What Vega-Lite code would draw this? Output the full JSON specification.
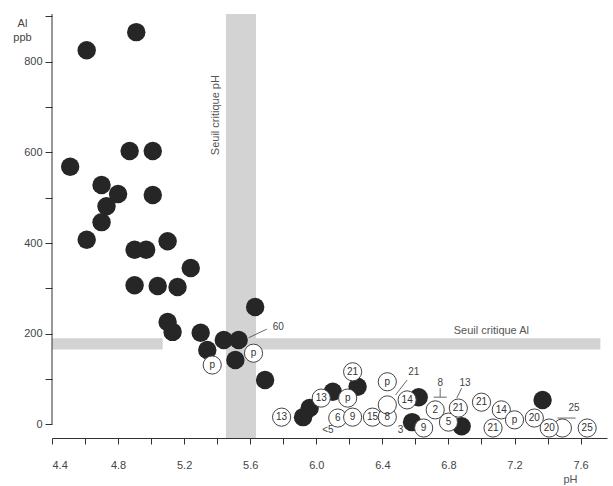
{
  "$schema": "https://vega.github.io/schema/vega-lite/v6.json",
  "width": 555,
  "height": 424,
  "autosize": {"type": "none"},
  "padding": {"left": 52, "top": 14, "right": 6, "bottom": 48},
  "background": "white",
  "config": {"view": {"stroke": null}, "font": "Liberation Sans"},
  "datasets": {
    "bands": [
      {"ph": 5.453, "ph2": 5.635, "al": -30, "al2": 905},
      {"ph": 4.4, "ph2": 5.07, "al": 165, "al2": 190},
      {"ph": 5.62, "ph2": 7.72, "al": 165, "al2": 190}
    ],
    "yline": [{"ph": 4.4, "al": 0, "al2": 905}],
    "leaders": [
      {"ph": 5.59, "al": 191, "ph2": 5.70, "al2": 210},
      {"ph": 6.55, "al": 98, "ph2": 6.48, "al2": 65},
      {"ph": 6.75, "al": 80, "ph2": 6.75, "al2": 60},
      {"ph": 6.71, "al": 60, "ph2": 6.79, "al2": 60},
      {"ph": 6.88, "al": 80, "ph2": 6.85, "al2": 58},
      {"ph": 7.46, "al": 14, "ph2": 7.57, "al2": 14}
    ],
    "filled": [
      {"ph": 4.61, "al": 825}, {"ph": 4.91, "al": 865}, {"ph": 4.51, "al": 568},
      {"ph": 4.87, "al": 603}, {"ph": 5.01, "al": 603}, {"ph": 4.70, "al": 528},
      {"ph": 4.80, "al": 508}, {"ph": 4.73, "al": 481}, {"ph": 4.70, "al": 446},
      {"ph": 5.01, "al": 506}, {"ph": 4.61, "al": 407}, {"ph": 4.90, "al": 385},
      {"ph": 4.97, "al": 385}, {"ph": 5.10, "al": 404}, {"ph": 5.24, "al": 345},
      {"ph": 4.90, "al": 307}, {"ph": 5.04, "al": 305}, {"ph": 5.16, "al": 303},
      {"ph": 5.10, "al": 226}, {"ph": 5.13, "al": 204}, {"ph": 5.30, "al": 202},
      {"ph": 5.34, "al": 164}, {"ph": 5.44, "al": 186}, {"ph": 5.53, "al": 186},
      {"ph": 5.51, "al": 142}, {"ph": 5.63, "al": 259}, {"ph": 5.69, "al": 98},
      {"ph": 6.25, "al": 83}, {"ph": 6.10, "al": 72}, {"ph": 5.96, "al": 36},
      {"ph": 5.92, "al": 16}, {"ph": 6.62, "al": 60}, {"ph": 6.58, "al": 5},
      {"ph": 6.88, "al": -4}, {"ph": 7.37, "al": 54}
    ],
    "open": [
      {"label": "p", "ph": 5.62, "al": 157}, {"label": "p", "ph": 5.37, "al": 131},
      {"label": "21", "ph": 6.22, "al": 116}, {"label": "p", "ph": 6.19, "al": 58},
      {"label": "13", "ph": 6.03, "al": 58}, {"label": "13", "ph": 5.79, "al": 16},
      {"label": "6", "ph": 6.13, "al": 14}, {"label": "9", "ph": 6.22, "al": 16},
      {"label": "15", "ph": 6.34, "al": 16}, {"label": "8", "ph": 6.43, "al": 16},
      {"label": "p", "ph": 6.43, "al": 94}, {"label": "", "ph": 6.43, "al": 43},
      {"label": "14", "ph": 6.55, "al": 54}, {"label": "2", "ph": 6.72, "al": 32},
      {"label": "9", "ph": 6.65, "al": -8}, {"label": "5", "ph": 6.80, "al": 5},
      {"label": "21", "ph": 6.86, "al": 36}, {"label": "21", "ph": 7.00, "al": 49},
      {"label": "14", "ph": 7.12, "al": 32}, {"label": "p", "ph": 7.20, "al": 10},
      {"label": "20", "ph": 7.32, "al": 14}, {"label": "", "ph": 7.49, "al": -8},
      {"label": "20", "ph": 7.41, "al": -8}, {"label": "25", "ph": 7.64, "al": -8},
      {"label": "21", "ph": 7.07, "al": -8}
    ],
    "notes": [
      {"label": "60", "ph": 5.77, "al": 215}, {"label": "21", "ph": 6.59, "al": 116},
      {"label": "8", "ph": 6.75, "al": 91}, {"label": "13", "ph": 6.90, "al": 91},
      {"label": "25", "ph": 7.56, "al": 36}, {"label": "<5", "ph": 6.07, "al": -12},
      {"label": "3", "ph": 6.51, "al": -12}
    ],
    "titles": [
      {"label": "Seuil critique Al", "ph": 7.06, "al": 207}
    ],
    "vtitles": [
      {"label": "Seuil critique pH", "ph": 5.39, "al": 682}
    ]
  },
  "encoding": {
    "x": {
      "field": "ph", "type": "quantitative",
      "scale": {"domain": [4.4, 7.76], "nice": false, "zero": false},
      "axis": {
        "title": "pH", "grid": false,
        "values": [4.4, 4.6, 4.8, 5.0, 5.2, 5.4, 5.6, 5.8, 6.0, 6.2, 6.4, 6.6, 6.8, 7.0, 7.2, 7.4, 7.6],
        "labelExpr": "abs(round(datum.value*10) % 4) == 0 ? format(datum.value, '.1f') : ''",
        "tickSize": 6, "tickColor": "#333", "domainColor": "#333",
        "labelFontSize": 11, "labelColor": "#444", "labelPadding": 15,
        "labelFont": "Liberation Sans", "titleFont": "Liberation Sans",
        "titleFontWeight": "normal", "titleFontSize": 11, "titleColor": "#555",
        "titleX": 518, "titleY": 41, "titleBaseline": "middle", "titleAlign": "center"
      }
    },
    "y": {
      "field": "al", "type": "quantitative",
      "scale": {"domain": [-30, 905], "nice": false, "zero": false},
      "axis": {
        "title": ["Al", "ppb"], "grid": false, "domain": false,
        "values": [0, 100, 200, 300, 400, 500, 600, 700, 800, 900],
        "labelExpr": "datum.value % 200 == 0 && datum.value <= 800 ? datum.label : ''",
        "tickSize": 7, "tickColor": "#333",
        "labelFontSize": 11, "labelColor": "#444", "labelPadding": 3,
        "labelFont": "Liberation Sans", "titleFont": "Liberation Sans",
        "titleFontWeight": "normal", "titleFontSize": 11, "titleColor": "#444",
        "titleAngle": 0, "titleAlign": "center", "titleBaseline": "top",
        "titleX": -30, "titleY": 3, "titleLineHeight": 14
      }
    }
  },
  "layer": [
    {
      "data": {"name": "bands"},
      "mark": {"type": "rect", "fill": "#d3d3d3"},
      "encoding": {"x2": {"field": "ph2"}, "y2": {"field": "al2"}}
    },
    {
      "data": {"name": "yline"},
      "mark": {"type": "rule", "color": "#333", "strokeWidth": 1},
      "encoding": {"y2": {"field": "al2"}}
    },
    {
      "data": {"name": "leaders"},
      "mark": {"type": "rule", "color": "#444", "strokeWidth": 0.8},
      "encoding": {"x2": {"field": "ph2"}, "y2": {"field": "al2"}}
    },
    {
      "data": {"name": "filled"},
      "mark": {"type": "circle", "size": 340, "fill": "#262626", "opacity": 1}
    },
    {
      "data": {"name": "open"},
      "mark": {"type": "point", "shape": "circle", "size": 330, "filled": false, "fill": "white", "fillOpacity": 1, "stroke": "#444", "strokeWidth": 1, "opacity": 1}
    },
    {
      "data": {"name": "open"},
      "mark": {"type": "text", "fontSize": 10, "color": "#333", "align": "center", "baseline": "middle", "font": "Liberation Sans"},
      "encoding": {"text": {"field": "label"}}
    },
    {
      "data": {"name": "notes"},
      "mark": {"type": "text", "fontSize": 10, "color": "#444", "align": "center", "baseline": "middle", "font": "Liberation Sans"},
      "encoding": {"text": {"field": "label"}}
    },
    {
      "data": {"name": "titles"},
      "mark": {"type": "text", "fontSize": 11, "color": "#555", "align": "center", "baseline": "middle", "font": "Liberation Sans"},
      "encoding": {"text": {"field": "label"}}
    },
    {
      "data": {"name": "vtitles"},
      "mark": {"type": "text", "fontSize": 11, "color": "#555", "align": "center", "baseline": "middle", "angle": 270, "font": "Liberation Sans"},
      "encoding": {"text": {"field": "label"}}
    }
  ]
}
